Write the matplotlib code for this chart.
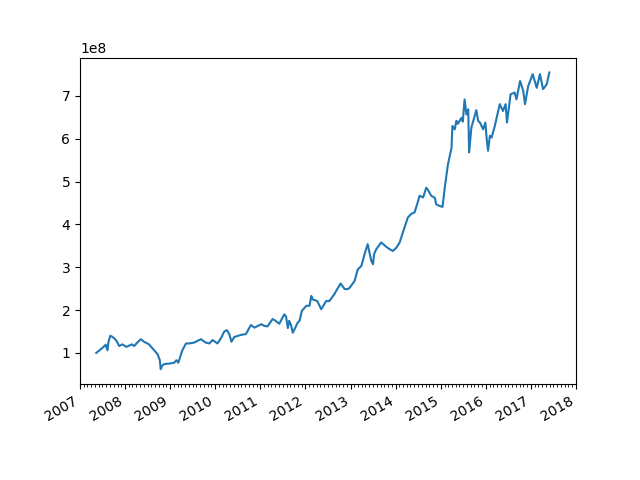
import numpy as np
import pandas as pd
import matplotlib
matplotlib.use('Agg')
import matplotlib.pyplot as plt
import matplotlib.dates as mdates

# decimal years and values (in units of 1e8)
years = [
    2007.36, 2007.42, 2007.50, 2007.57, 2007.61, 2007.63, 2007.67, 2007.71, 2007.76, 2007.81,
    2007.87, 2007.94, 2008.03, 2008.09, 2008.15, 2008.20, 2008.27, 2008.35, 2008.42, 2008.53,
    2008.62, 2008.72, 2008.77, 2008.79, 2008.82, 2008.87, 2008.98, 2009.09, 2009.14, 2009.18,
    2009.22, 2009.27, 2009.35, 2009.42, 2009.53, 2009.68, 2009.79, 2009.87, 2009.94, 2010.05,
    2010.13, 2010.20, 2010.26, 2010.31, 2010.36, 2010.42, 2010.57, 2010.68, 2010.79, 2010.87,
    2011.02, 2011.09, 2011.16, 2011.27, 2011.31, 2011.42, 2011.53, 2011.57, 2011.61, 2011.64,
    2011.68, 2011.72, 2011.78, 2011.83, 2011.87, 2011.92, 2012.02, 2012.09, 2012.13, 2012.16,
    2012.26, 2012.29, 2012.35, 2012.46, 2012.53, 2012.64, 2012.71, 2012.78, 2012.87, 2012.94,
    2012.98, 2013.09, 2013.16, 2013.24, 2013.31, 2013.38, 2013.46, 2013.50, 2013.52, 2013.57,
    2013.68, 2013.79, 2013.87, 2013.94, 2014.02, 2014.09, 2014.16, 2014.27, 2014.35, 2014.42,
    2014.50, 2014.53, 2014.61, 2014.68, 2014.72, 2014.79, 2014.87, 2014.90, 2014.98, 2015.04,
    2015.09, 2015.16, 2015.24, 2015.26, 2015.31, 2015.35, 2015.38, 2015.46, 2015.49, 2015.53,
    2015.57, 2015.61, 2015.63, 2015.68, 2015.73, 2015.79, 2015.83, 2015.87, 2015.94, 2015.99,
    2016.02, 2016.05, 2016.09, 2016.13, 2016.20, 2016.31, 2016.38, 2016.44, 2016.47, 2016.55,
    2016.64, 2016.68, 2016.76, 2016.83, 2016.87, 2016.94, 2017.04, 2017.13, 2017.20, 2017.27,
    2017.35, 2017.41,
]
values = [
    1.00, 1.05, 1.12, 1.19, 1.06, 1.25, 1.40, 1.38, 1.34, 1.28,
    1.16, 1.20, 1.14, 1.17, 1.20, 1.16, 1.24, 1.32, 1.26, 1.20,
    1.09, 0.97, 0.83, 0.62, 0.70, 0.74, 0.75, 0.77, 0.83, 0.77,
    0.90, 1.06, 1.22, 1.22, 1.24, 1.32, 1.24, 1.22, 1.30, 1.22,
    1.35, 1.50, 1.53, 1.44, 1.26, 1.37, 1.42, 1.44, 1.65, 1.59,
    1.67, 1.63, 1.62, 1.79, 1.77, 1.68, 1.90, 1.85, 1.58, 1.75,
    1.65, 1.47, 1.60, 1.71, 1.75, 1.98, 2.10, 2.10, 2.33, 2.25,
    2.21, 2.15, 2.02, 2.21, 2.21, 2.37, 2.50, 2.62, 2.49, 2.49,
    2.52, 2.68, 2.95, 3.03, 3.30, 3.54, 3.15, 3.07, 3.30, 3.42,
    3.58, 3.48, 3.42, 3.38, 3.46, 3.58, 3.81, 4.16, 4.25, 4.28,
    4.55, 4.67, 4.63, 4.86, 4.80, 4.67, 4.62, 4.47, 4.43, 4.41,
    4.86, 5.40, 5.79, 6.30, 6.22, 6.42, 6.35, 6.49, 6.40, 6.92,
    6.57, 6.69, 5.68, 6.26, 6.45, 6.67, 6.42, 6.38, 6.22, 6.38,
    6.00, 5.72, 6.07, 6.03, 6.30, 6.81, 6.65, 6.81, 6.38, 7.04,
    7.08, 6.92, 7.35, 7.12, 6.81, 7.23, 7.51, 7.19, 7.51, 7.16,
    7.27, 7.55,
]

start = pd.Timestamp('2007-01-01')
dates = [start + pd.Timedelta(days=(y - 2007) * 365.25) for y in years]
vals = np.array(values) * 1e8

fig, ax = plt.subplots(figsize=(6.4, 4.8), dpi=100)
ax.plot(dates, vals)

ax.set_xlim(pd.Timestamp('2007-01-01'), pd.Timestamp('2018-01-01'))
ax.xaxis.set_major_locator(mdates.YearLocator())
ax.xaxis.set_minor_locator(mdates.MonthLocator())
ax.xaxis.set_major_formatter(mdates.DateFormatter('%Y'))
fig.autofmt_xdate()

plt.savefig('out.png', dpi=100)
